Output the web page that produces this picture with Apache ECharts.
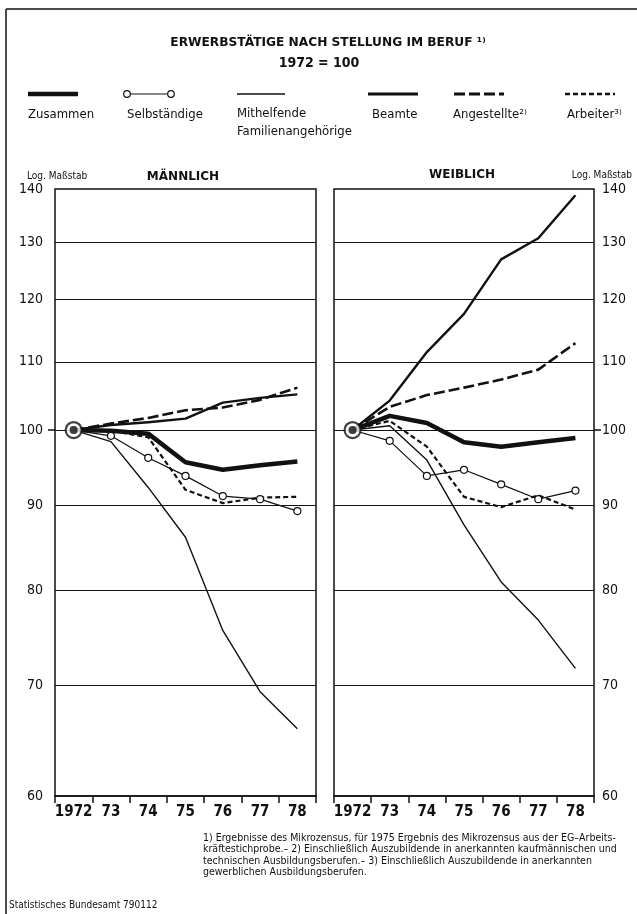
<!DOCTYPE html>
<html>
<head>
<meta charset="utf-8">
<script src="https://cdn.jsdelivr.net/npm/echarts@6/dist/echarts.min.js"></script>
<style>
html, body { margin: 0; padding: 0; background: #fff; }
#chart { width: 637px; height: 914px; }
</style>
</head>
<body>
<div id="chart"></div>
<script>
// Erwerbstätige nach Stellung im Beruf, Index 1972 = 100 (log. Maßstab)
const years = ['1972', '73', '74', '75', '76', '77', '78'];
const yTicks = [60, 70, 80, 90, 100, 110, 120, 130, 140];
const gridValues = [70, 80, 90, 100, 110, 120, 130];
const baseValue = 100;

// Männlich
const zusammenM = [100, 99.9, 99.5, 95.6, 94.6, 95.2, 95.7];
const selbstM = [100, 99.2, 96.2, 93.8, 91.2, 90.8, 89.3];
const mithelfM = [100, 98.4, 92.3, 86.1, 75.6, 69.4, 65.9];
const beamteM = [100, 100.7, 101.1, 101.6, 103.9, 104.6, 105.1];
const angestM = [100, 100.9, 101.7, 102.8, 103.2, 104.3, 106.1];
const arbeiterM = [100, 99.9, 99.0, 92.0, 90.3, 91.0, 91.1];

// Weiblich
const zusammenW = [100, 102.0, 101.0, 98.3, 97.7, 98.3, 98.9];
const selbstW = [100, 98.5, 93.8, 94.6, 92.7, 90.8, 91.9];
const mithelfW = [100, 100.6, 95.9, 87.6, 80.9, 76.7, 71.7];
const beamteW = [100, 104.2, 111.5, 117.6, 126.9, 130.7, 138.8];
const angestW = [100, 103.3, 105.0, 106.1, 107.3, 108.8, 112.9];
const arbeiterW = [100, 101.3, 97.7, 91.1, 89.8, 91.3, 89.5];

const NARROW = "'Liberation Sans Narrow', 'DejaVu Sans Condensed', 'Roboto', sans-serif";
const WIDE = "'DejaVu Sans', 'Liberation Sans', sans-serif";
const INK = '#111';

const lineStyles = {
  zusammen: { width: 4.5, type: 'solid' },
  selbst: { width: 1.2, type: 'solid' },
  mithelf: { width: 1.4, type: 'solid' },
  beamte: { width: 2.4, type: 'solid' },
  angest: { width: 2.6, type: [11, 4] },
  arbeiter: { width: 2.2, type: [5, 3] }
};

function lineSeries(name, data, idx, key, extra) {
  return Object.assign({
    name: name,
    type: 'line',
    xAxisIndex: idx,
    yAxisIndex: idx,
    data: data,
    symbol: 'none',
    silent: true,
    animation: false,
    lineStyle: Object.assign({ color: INK, cap: 'butt', join: 'round' }, lineStyles[key]),
    z: 3
  }, extra || {});
}

function panel(idx, d) {
  return [
    lineSeries('Mithelfende Familienangehörige', d.mithelf, idx, 'mithelf', {
      markLine: {
        silent: true,
        symbol: 'none',
        animation: false,
        label: { show: false },
        lineStyle: { color: INK, width: 1.2, type: 'solid' },
        data: gridValues.map(v => ({ yAxis: v }))
      }
    }),
    lineSeries('Arbeiter', d.arbeiter, idx, 'arbeiter'),
    lineSeries('Angestellte', d.angest, idx, 'angest'),
    lineSeries('Beamte', d.beamte, idx, 'beamte'),
    lineSeries('Selbständige', d.selbst, idx, 'selbst', {
      symbol: 'circle',
      symbolSize: 7,
      showSymbol: true,
      itemStyle: { color: '#fff', borderColor: INK, borderWidth: 1.2 },
      z: 4
    }),
    lineSeries('Zusammen', d.zusammen, idx, 'zusammen', { z: 5 }),
    {
      type: 'scatter', xAxisIndex: idx, yAxisIndex: idx, silent: true, animation: false,
      data: [[years[0], baseValue]], symbolSize: 16,
      itemStyle: { color: '#fff', borderColor: INK, borderWidth: 2.2 }, z: 6
    },
    {
      type: 'scatter', xAxisIndex: idx, yAxisIndex: idx, silent: true, animation: false,
      data: [[years[0], baseValue]], symbolSize: 8,
      itemStyle: { color: INK }, z: 7
    }
  ];
}

function xAxis(idx) {
  return {
    type: 'category', gridIndex: idx, data: years, boundaryGap: true,
    axisLine: { show: true, lineStyle: { color: INK, width: 1.5 } },
    axisTick: { show: true, interval: 0, length: 7, lineStyle: { color: INK, width: 1.5 } },
    axisLabel: { interval: 0, margin: 9, color: INK, fontFamily: NARROW, fontSize: 15, fontWeight: 'bold' },
    splitLine: { show: false }
  };
}

function yAxis(idx, pos) {
  return {
    type: 'log', logBase: 10, gridIndex: idx, position: pos, min: 60, max: 140,
    axisLine: { show: false },
    axisTick: { show: true, customValues: [baseValue], length: 7, lineStyle: { color: INK, width: 1.5 } },
    axisLabel: { customValues: yTicks, margin: pos === 'left' ? 12 : 8, color: INK, fontFamily: NARROW, fontSize: 14 },
    splitLine: { show: false },
    minorTick: { show: false }
  };
}

const gridBase = { top: 189, height: 607, show: true, borderColor: INK, borderWidth: 1.5, backgroundColor: 'transparent' };

function txt(x, y, text, style) {
  return { type: 'text', x: x, y: y, silent: true,
    style: Object.assign({ text: text, fill: INK, font: '13px ' + NARROW, textVerticalAlign: 'middle' }, style || {}) };
}
function seg(x1, y1, x2, y2, width, dash) {
  return { type: 'line', silent: true, shape: { x1: x1, y1: y1, x2: x2, y2: y2 },
    style: { stroke: INK, lineWidth: width, lineDash: dash || null } };
}

const legendY = 94;
const labelY = 115;
const graphics = [
  // Rahmen
  seg(6, 9, 637, 9, 1.5),
  seg(6, 9, 6, 914, 1.5),
  // Titel
  txt(328, 43, 'ERWERBSTÄTIGE NACH STELLUNG IM BERUF ¹⁾', { font: 'bold 12.2px ' + WIDE, textAlign: 'center' }),
  txt(319, 63, '1972 = 100', { font: 'bold 14px ' + NARROW, textAlign: 'center' }),
  // Legende
  seg(28, legendY, 78, legendY, 4.5),
  seg(127, legendY, 171, legendY, 1.2),
  { type: 'circle', silent: true, shape: { cx: 127, cy: legendY, r: 3.3 }, style: { fill: '#fff', stroke: INK, lineWidth: 1.2 } },
  { type: 'circle', silent: true, shape: { cx: 171, cy: legendY, r: 3.3 }, style: { fill: '#fff', stroke: INK, lineWidth: 1.2 } },
  seg(237, legendY, 285, legendY, 1.4),
  seg(368, legendY, 418, legendY, 2.8),
  seg(454, legendY, 504, legendY, 2.8, [11, 4]),
  seg(565, legendY, 615, legendY, 2.4, [5, 3]),
  txt(28, labelY, 'Zusammen'),
  txt(127, labelY, 'Selbständige'),
  txt(237, labelY - 1, 'Mithelfende'),
  txt(237, labelY + 17, 'Familienangehörige'),
  txt(372, labelY, 'Beamte'),
  txt(453, labelY, 'Angestellte²⁾'),
  txt(567, labelY, 'Arbeiter³⁾'),
  // Achsen- und Feldbeschriftungen
  txt(27, 176, 'Log. Maßstab', { font: '10px ' + NARROW }),
  txt(632, 175, 'Log. Maßstab', { font: '10px ' + NARROW, textAlign: 'right' }),
  txt(183, 177, 'MÄNNLICH', { font: 'bold 12px ' + WIDE, textAlign: 'center' }),
  txt(462, 175, 'WEIBLICH', { font: 'bold 12px ' + WIDE, textAlign: 'center' }),
  // Fußnoten
  txt(203, 838, '1) Ergebnisse des Mikrozensus, für 1975 Ergebnis des Mikrozensus aus der EG–Arbeits-', { font: '10.5px ' + NARROW }),
  txt(203, 849.5, 'kräftestichprobe.– 2) Einschließlich Auszubildende in anerkannten kaufmännischen und', { font: '10.5px ' + NARROW }),
  txt(203, 861, 'technischen Ausbildungsberufen.– 3) Einschließlich Auszubildende in anerkannten', { font: '10.5px ' + NARROW }),
  txt(203, 872.5, 'gewerblichen Ausbildungsberufen.', { font: '10.5px ' + NARROW }),
  txt(9, 905, 'Statistisches Bundesamt 790112', { font: '10px ' + NARROW })
];

const chart = echarts.init(document.getElementById('chart'), null, { renderer: 'canvas' });
chart.setOption({
  animation: false,
  backgroundColor: '#fff',
  grid: [
    Object.assign({ left: 55, width: 261 }, gridBase),
    Object.assign({ left: 334, width: 260 }, gridBase)
  ],
  xAxis: [xAxis(0), xAxis(1)],
  yAxis: [yAxis(0, 'left'), yAxis(1, 'right')],
  series: [].concat(
    panel(0, { zusammen: zusammenM, selbst: selbstM, mithelf: mithelfM, beamte: beamteM, angest: angestM, arbeiter: arbeiterM }),
    panel(1, { zusammen: zusammenW, selbst: selbstW, mithelf: mithelfW, beamte: beamteW, angest: angestW, arbeiter: arbeiterW })
  ),
  graphic: graphics
});
</script>
</body>
</html>
